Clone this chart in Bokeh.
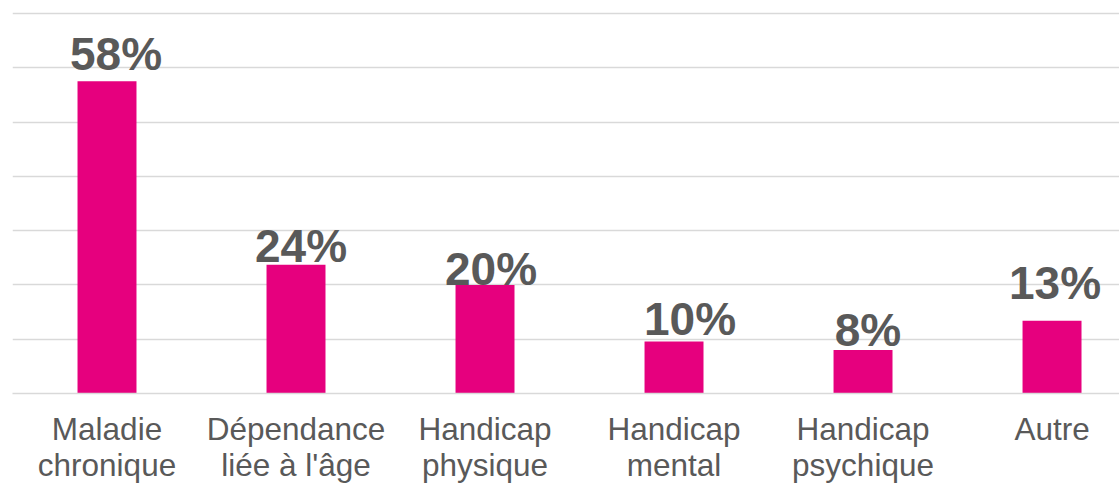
from bokeh.plotting import figure
from bokeh.models import Range1d, FixedTicker, ColumnDataSource
from bokeh.core.properties import value
from bokeh.embed import file_html
from bokeh.resources import INLINE

# Data
categories = ["Maladie chronique", "Dépendance liée à l'âge", "Handicap physique",
              "Handicap mental", "Handicap psychique", "Autre"]
tick_labels = ["Maladie\nchronique", "Dépendance\nliée à l'âge", "Handicap\nphysique",
               "Handicap\nmental", "Handicap\npsychique", "Autre"]
values = [57.5, 23.7, 20.0, 9.6, 8.0, 13.4]
value_labels = ["58%", "24%", "20%", "10%", "8%", "13%"]

# Style: label nudges (pixels) as placed in the original
label_dx = [9, 5, 6, 16, 5, 3]
label_gap = [9, 1, -2, 4, 2, 20]
BASE_FIX = 18

BAR = "#E6007E"
TXT = "#595959"
GRID = "#D9D9D9"
FONT = "Liberation Sans"

xs = [i + 0.5 for i in range(len(categories))]
dys = [-(g + BASE_FIX) for g in label_gap]
src = ColumnDataSource(dict(x=xs, top=values, lab=value_labels, dx=label_dx, dy=dys))

p = figure(width=1119, height=485, output_backend="svg", toolbar_location=None,
           x_range=Range1d(0, 5.857), y_range=Range1d(0, 70.37),
           y_axis_location=None, tools="",
           min_border_left=12, min_border_right=0, min_border_top=11, min_border_bottom=91)
p.outline_line_color = None
p.background_fill_color = "white"
p.border_fill_color = "white"

p.vbar(x="x", top="top", width=0.312, bottom=0, source=src, color=BAR, line_color=None)

p.text(x="x", y="top", text="lab", x_offset="dx", y_offset="dy", source=src,
       text_align="center", text_baseline="alphabetic",
       text_font=value(FONT), text_font_style="bold", text_font_size="46px",
       text_color=TXT)

p.xgrid.visible = False
p.ygrid.ticker = FixedTicker(ticks=list(range(0, 71, 10)))
p.ygrid.grid_line_color = GRID
p.ygrid.grid_line_width = 1.6

ax = p.xaxis[0]
ax.ticker = FixedTicker(ticks=xs)
ax.major_label_overrides = {x: t for x, t in zip(xs, tick_labels)}
ax.axis_line_color = GRID
ax.axis_line_width = 1.6
ax.major_tick_line_color = None
ax.minor_tick_line_color = None
ax.major_label_text_font = FONT
ax.major_label_text_font_size = "31.5px"
ax.major_label_text_color = TXT
ax.major_label_standoff = 11
ax.major_label_text_line_height = 1.0

open("out.html", "w").write(file_html(p, INLINE))
